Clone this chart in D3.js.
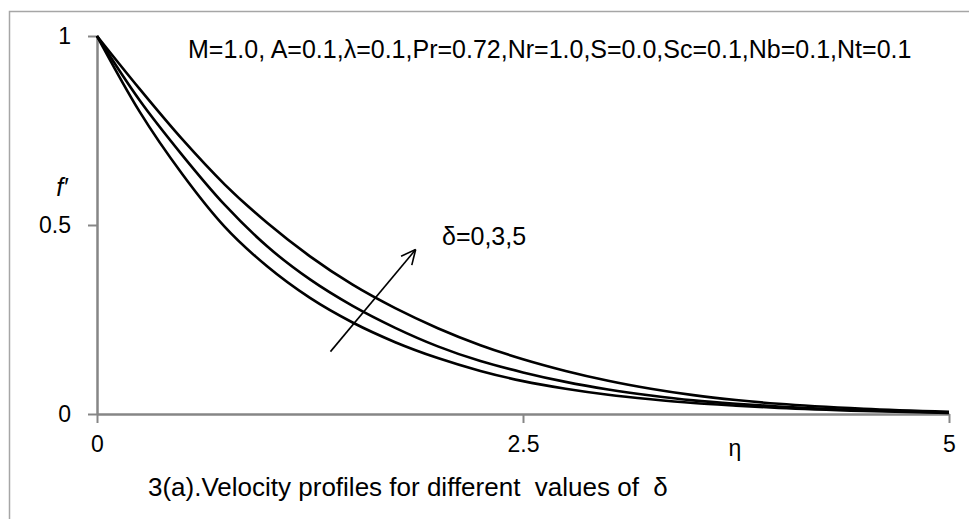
<!DOCTYPE html>
<html>
<head>
<meta charset="utf-8">
<script src="https://cdn.jsdelivr.net/npm/d3@7"></script>
<style>
  html, body { margin: 0; padding: 0; background: #fff; }
  svg { display: block; font-family: "Liberation Sans", Arial, sans-serif; }
  text { white-space: pre; }
</style>
</head>
<body>
<svg width="969" height="519"></svg>
<script>
// eta values and velocity profiles f'
const eta     = [0, 0.25, 0.5, 0.75, 1.0, 1.25, 1.5, 1.75, 2.0, 2.25, 2.5, 2.75, 3.0, 3.25, 3.5, 3.75, 4.0, 4.5, 5.0];
const fDelta0 = [1, 0.80, 0.635, 0.495, 0.39, 0.307, 0.242, 0.19, 0.148, 0.114, 0.087, 0.067, 0.051, 0.039, 0.029, 0.022, 0.016, 0.008, 0.003];
const fDelta3 = [1, 0.83, 0.685, 0.553, 0.443, 0.356, 0.286, 0.228, 0.179, 0.14, 0.11, 0.085, 0.065, 0.049, 0.036, 0.027, 0.02, 0.01, 0.004];
const fDelta5 = [1, 0.86, 0.727, 0.607, 0.505, 0.417, 0.342, 0.28, 0.227, 0.182, 0.145, 0.114, 0.088, 0.067, 0.05, 0.037, 0.027, 0.014, 0.006];
const xTicks = [0, 2.5, 5];
const yTicks = [0, 0.5, 1];
const xTickLabels = ["0", "2.5", "5"];
const yTickLabels = ["0", "0.5", "1"];
const paramText = "M=1.0, A=0.1,\u03bb=0.1,Pr=0.72,Nr=1.0,S=0.0,Sc=0.1,Nb=0.1,Nt=0.1";
const deltaText = "\u03b4=0,3,5";
const captionText = "3(a).Velocity profiles for different  values of  \u03b4";

let svg = d3.select('svg');
let margin = { top: 36, bottom: 105, left: 97, right: 20 };

// outer frame
svg.append("rect")
  .attr("x", 9.5)
  .attr("y", 11.5)
  .attr("width", 980)
  .attr("height", 530)
  .attr("fill", "none")
  .attr("stroke", "#a6a6a6")
  .attr("stroke-width", 1.5);

let x = d3.scaleLinear()
  .domain([0, 5])
  .range([margin.left, 949]);
let y = d3.scaleLinear()
  .domain([0, 1])
  .range([414, margin.top]);

let axisColor = "#868686";

let xAxis = g => g
  .attr("transform", `translate(0,${y(0)})`)
  .call(d3.axisBottom(x).tickValues(xTicks).tickFormat((d, i) => xTickLabels[i]).tickSize(9).tickPadding(13).tickSizeOuter(0))
  .call(g => g.select(".domain").attr("stroke", axisColor).attr("stroke-width", 2.5))
  .call(g => g.selectAll(".tick line").attr("stroke", axisColor).attr("stroke-width", 2))
  .call(g => g.selectAll(".tick text").attr("fill", "#000").attr("font-size", 23).attr("font-family", null));

let yAxis = g => g
  .attr("transform", `translate(${x(0)},0)`)
  .call(d3.axisLeft(y).tickValues(yTicks).tickFormat((d, i) => yTickLabels[i]).tickSize(9).tickPadding(17).tickSizeOuter(0))
  .call(g => g.select(".domain").attr("stroke", axisColor).attr("stroke-width", 2.5))
  .call(g => g.selectAll(".tick line").attr("stroke", axisColor).attr("stroke-width", 2))
  .call(g => g.selectAll(".tick text").attr("fill", "#000").attr("font-size", 23).attr("font-family", null));

svg.append("g").call(xAxis);
svg.append("g").call(yAxis);

// curves
let series = [fDelta0, fDelta3, fDelta5];
let line = d3.line()
  .x((d, i) => x(eta[i]))
  .y(d => y(d))
  .curve(d3.curveMonotoneX);

series.forEach(s => {
  svg.append("path")
    .datum(s)
    .attr("fill", "none")
    .attr("stroke", "#000")
    .attr("stroke-width", 2.6)
    .attr("stroke-linejoin", "round")
    .attr("d", line);
});

// arrow across the curves
let arrowFrom = [1.37, 0.165];
let arrowTo = [1.87, 0.435];
let x1 = x(arrowFrom[0]), y1 = y(arrowFrom[1]);
let x2 = x(arrowTo[0]), y2 = y(arrowTo[1]);
svg.append("line")
  .attr("x1", x1).attr("y1", y1)
  .attr("x2", x2).attr("y2", y2)
  .attr("stroke", "#000")
  .attr("stroke-width", 1.6);
let ang = Math.atan2(y2 - y1, x2 - x1);
let headLen = 16;
[-0.45, 0.45].forEach(a => {
  svg.append("line")
    .attr("x1", x2).attr("y1", y2)
    .attr("x2", x2 - headLen * Math.cos(ang + a))
    .attr("y2", y2 - headLen * Math.sin(ang + a))
    .attr("stroke", "#000")
    .attr("stroke-width", 1.6);
});

// labels
svg.append("text")
  .attr("x", 188)
  .attr("y", 58)
  .attr("font-size", 25)
  .text(paramText);

svg.append("text")
  .attr("x", 442)
  .attr("y", 245)
  .attr("font-size", 25)
  .text(deltaText);

svg.append("text")
  .attr("x", 62)
  .attr("y", 196)
  .attr("text-anchor", "middle")
  .attr("font-size", 25)
  .attr("font-style", "italic")
  .text("f\u2032");

svg.append("text")
  .attr("x", 735)
  .attr("y", 456)
  .attr("text-anchor", "middle")
  .attr("font-size", 23)
  .text("\u03b7");

svg.append("text")
  .attr("x", 148)
  .attr("y", 496)
  .attr("font-size", 26)
  .text(captionText);
</script>
</body>
</html>
